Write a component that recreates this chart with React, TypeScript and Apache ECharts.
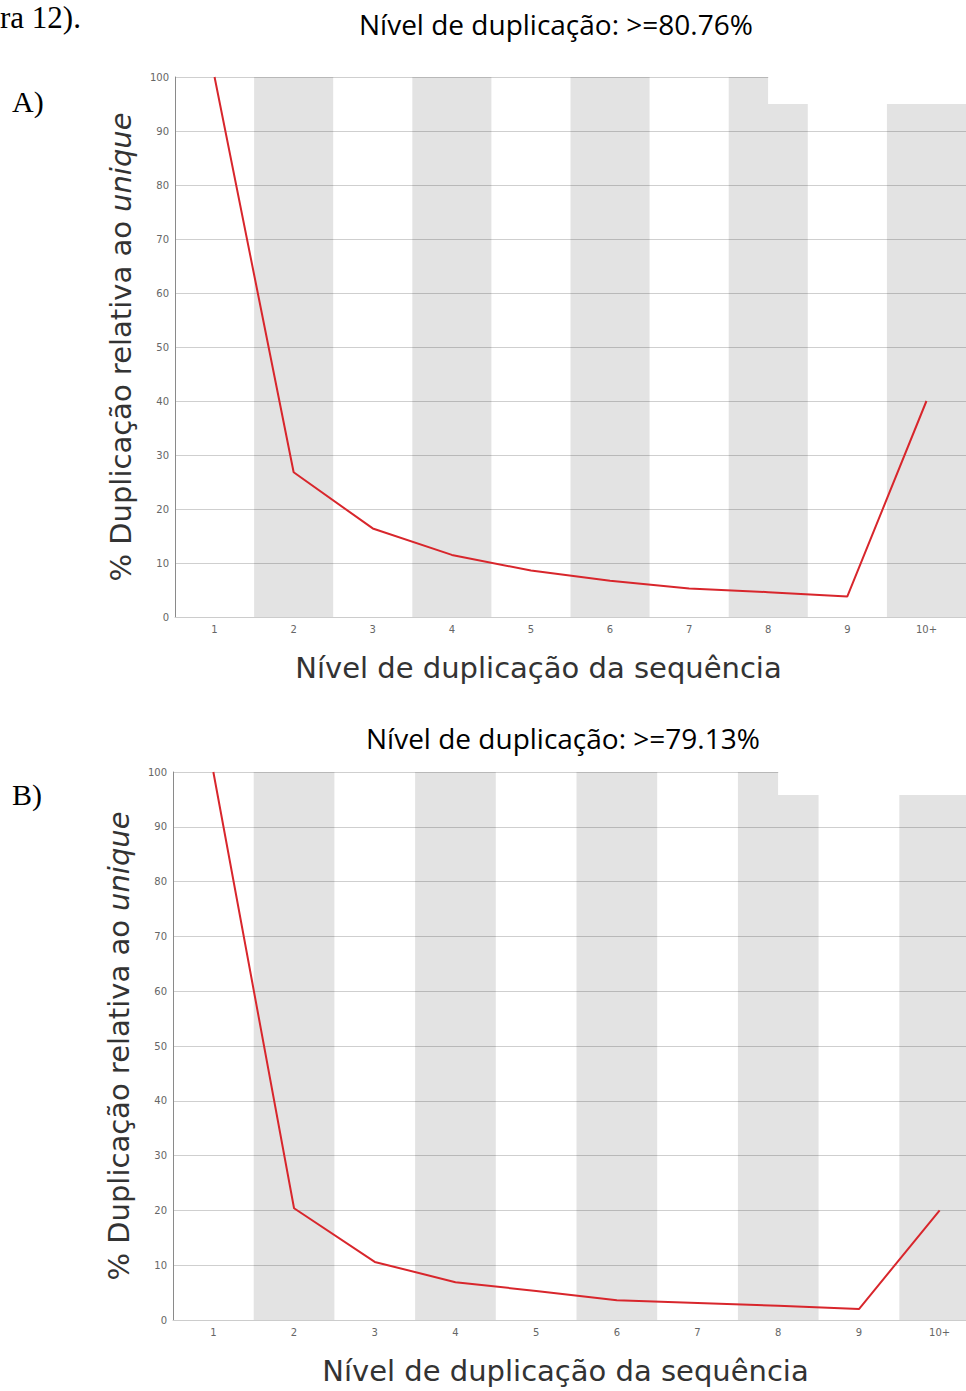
import React, { useEffect, useRef } from "react";
import * as echarts from "echarts";

const categories = ["1", "2", "3", "4", "5", "6", "7", "8", "9", "10+"];
const seriesA = [100, 26.8, 16.4, 11.5, 8.6, 6.7, 5.3, 4.6, 3.8, 40];
const seriesB = [100, 20.4, 10.6, 6.9, 5.3, 3.6, 3.1, 2.6, 2.0, 20];
const titleA = "Nível de duplicação: >=80.76%";
const titleB = "Nível de duplicação: >=79.13%";
const notchA = 95;
const notchB = 95.8;
const yTicks = { min: 0, max: 100, interval: 10 };

const RED = "#d8262c";

function bands(notch: number) {
  const g = "rgba(0,0,0,0.11)";
  return [
    [{ xAxis: 1.5, yAxis: 0, itemStyle: { color: g } }, { xAxis: 2.5, yAxis: 100 }],
    [{ xAxis: 3.5, yAxis: 0, itemStyle: { color: g } }, { xAxis: 4.5, yAxis: 100 }],
    [{ xAxis: 5.5, yAxis: 0, itemStyle: { color: g } }, { xAxis: 6.5, yAxis: 100 }],
    [{ xAxis: 7.5, yAxis: 0, itemStyle: { color: g } }, { xAxis: 8, yAxis: 100 }],
    [{ xAxis: 8, yAxis: 0, itemStyle: { color: g } }, { xAxis: 8.5, yAxis: notch }],
    [{ xAxis: 9.5, yAxis: 0, itemStyle: { color: g } }, { xAxis: 10.5, yAxis: notch }],
    [{ xAxis: 8, yAxis: notch, itemStyle: { color: "#ffffff" } }, { xAxis: 10.5, yAxis: 100 }],
  ];
}

function yAxis(gi: number) {
  return {
    type: "value",
    gridIndex: gi,
    min: yTicks.min,
    max: yTicks.max,
    interval: yTicks.interval,
    name: "{a|% Duplicação relativa ao }{b|unique}",
    nameLocation: "middle",
    nameRotate: 90,
    nameGap: 40,
    nameTextStyle: {
      rich: {
        a: { fontFamily: "DejaVu Sans", fontSize: 29, color: "#333" },
        b: { fontFamily: "DejaVu Sans", fontSize: 29, color: "#333", fontStyle: "italic" },
      },
    },
    axisLine: { show: true, lineStyle: { color: "#8a8a8a", width: 1 } },
    axisTick: { show: false },
    axisLabel: { fontSize: 10, color: "#666", fontFamily: "DejaVu Sans", margin: 6 },
    splitLine: { show: true, lineStyle: { color: "#cfcfcf", width: 1 } },
  };
}

function xCat(gi: number, padRight: number) {
  return {
    type: "category",
    gridIndex: gi,
    data: categories,
    boundaryGap: true,
    name: "Nível de duplicação da sequência",
    nameLocation: "middle",
    nameGap: 36,
    nameTextStyle: {
      fontFamily: "DejaVu Sans",
      fontSize: 29,
      color: "#333",
      padding: [0, padRight, 0, 0],
    },
    axisLine: { show: true, lineStyle: { color: "#cccccc" } },
    axisTick: { show: false },
    axisLabel: { fontSize: 10, color: "#666", fontFamily: "DejaVu Sans", margin: 7 },
    splitLine: { show: false },
  };
}

function xVal(gi: number) {
  return { type: "value", gridIndex: gi, min: 0.5, max: 10.5, show: false, splitLine: { show: false } };
}

export default function App() {
  const ref = useRef<HTMLDivElement>(null);
  useEffect(() => {
    document.body.style.margin = "0";
    if (!ref.current) return;
    const chart = echarts.init(ref.current, null, { renderer: "svg" });
    chart.setOption({
      animation: false,
      backgroundColor: "#ffffff",
      grid: [
        { left: 175, top: 77, right: 24, height: 540 },
        { left: 173, top: 772, right: 10, height: 548 },
      ],
      xAxis: [xCat(0, 64), xCat(1, 22), xVal(0), xVal(1)],
      yAxis: [yAxis(0), yAxis(1)],
      series: [
        {
          type: "line",
          xAxisIndex: 2,
          yAxisIndex: 0,
          data: [[1, 0]],
          symbol: "none",
          lineStyle: { opacity: 0 },
          silent: true,
          z: 1,
          markArea: { silent: true, data: bands(notchA) },
        },
        {
          type: "line",
          xAxisIndex: 3,
          yAxisIndex: 1,
          data: [[1, 0]],
          symbol: "none",
          lineStyle: { opacity: 0 },
          silent: true,
          z: 1,
          markArea: { silent: true, data: bands(notchB) },
        },
        {
          type: "line",
          xAxisIndex: 0,
          yAxisIndex: 0,
          data: seriesA,
          symbol: "none",
          z: 5,
          lineStyle: { color: RED, width: 2 },
        },
        {
          type: "line",
          xAxisIndex: 1,
          yAxisIndex: 1,
          data: seriesB,
          symbol: "none",
          z: 5,
          lineStyle: { color: RED, width: 2 },
        },
      ],
      graphic: [
        { type: "text", left: 0, top: 2, style: { text: "ra 12).", font: "31px 'Liberation Serif'", fill: "#000" } },
        { type: "text", left: 12, top: 86, style: { text: "A)", font: "30px 'Liberation Serif'", fill: "#000" } },
        { type: "text", left: 12, top: 779, style: { text: "B)", font: "30px 'Liberation Serif'", fill: "#000" } },
        { type: "text", left: 359, top: 10, style: { text: titleA, font: "28px 'Open Sans'", fill: "#000" } },
        { type: "text", left: 366, top: 724, style: { text: titleB, font: "28px 'Open Sans'", fill: "#000" } },
      ],
    });
    return () => chart.dispose();
  }, []);
  return (
    <div style={{ width: 966, height: 1391, overflow: "hidden", position: "relative" }}>
      <div ref={ref} style={{ width: 990, height: 1391 }} />
    </div>
  );
}
